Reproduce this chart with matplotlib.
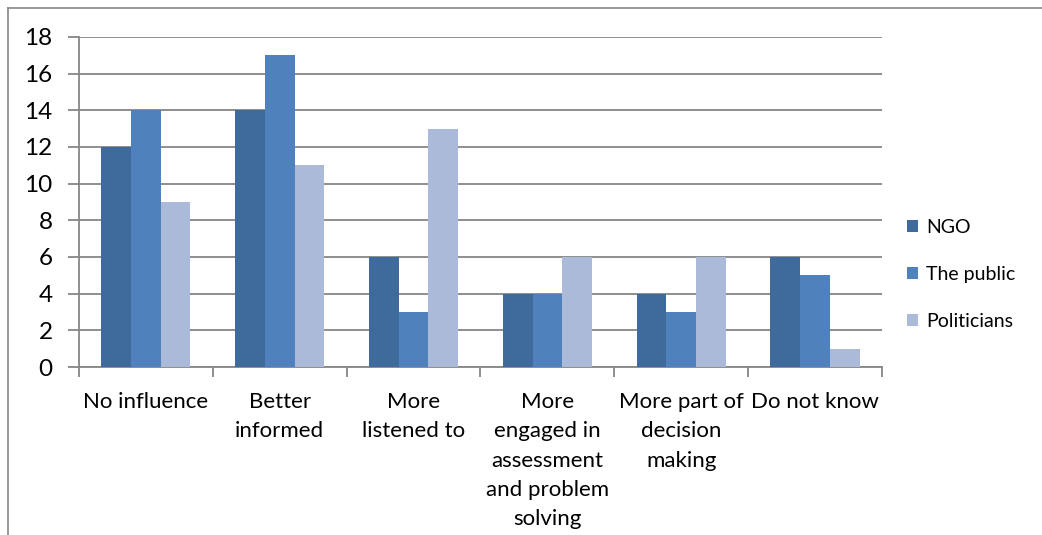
import matplotlib
matplotlib.use("Agg")
import matplotlib.pyplot as plt
from matplotlib.lines import Line2D
import numpy as np

# data
categories = ["No influence", "Better\ninformed", "More\nlistened to",
              "More\nengaged in\nassessment\nand problem\nsolving",
              "More part of\ndecision\nmaking", "Do not know"]
ngo = [12, 14, 6, 4, 4, 6]
public = [14, 17, 3, 4, 3, 5]
politicians = [9, 11, 13, 6, 6, 1]
series_names = ["NGO", "The public", "Politicians"]
colors = ["#3F6A9C", "#4F81BD", "#AABAD8"]
yticks = [0, 2, 4, 6, 8, 10, 12, 14, 16, 18]

plt.rcParams['font.family'] = ['Lato', 'DejaVu Sans']
gray = "#868686"

fig = plt.figure(figsize=(10.42, 5.35), dpi=100)
ax = fig.add_axes([0.0758, 0.314, 0.7706, 0.617])

x = np.arange(len(categories))
w = 0.222
for i, (vals, name, c) in enumerate(zip([ngo, public, politicians], series_names, colors)):
    ax.bar(x + (i - 1) * w, vals, width=w, color=c, label=name, zorder=3)

ax.set_xlim(-0.5, len(categories) - 0.5)
ax.set_ylim(0, 18)
ax.set_yticks(yticks)
ax.yaxis.grid(True, color=gray, linewidth=1.3, zorder=0)
ax.set_axisbelow(True)

for s in ["top", "right"]:
    ax.spines[s].set_visible(False)
for s in ["left", "bottom"]:
    ax.spines[s].set_color(gray)
    ax.spines[s].set_linewidth(1.3)

ax.tick_params(axis="y", length=8, width=1.3, color=gray, labelsize=17.5, pad=11)
ax.set_xticks(x)
ax.set_xticklabels(categories, fontsize=16, linespacing=1.58)
ax.tick_params(axis="x", length=0, pad=18)
ax.set_xticks(np.arange(-0.5, len(categories)), minor=True)
ax.tick_params(axis="x", which="minor", length=7, width=1.3, color=gray)

leg = ax.legend(loc="center left", bbox_to_anchor=(1.01, 0.28), frameon=False,
                fontsize=14, handlelength=0.55, handleheight=0.55,
                handletextpad=0.4, labelspacing=1.55)

# chart border (Excel-style frame)
fig.add_artist(Line2D([8 / 1042, 8 / 1042], [0, 1 - 8 / 535], color=gray, lw=1.2))
fig.add_artist(Line2D([8 / 1042, 1], [1 - 8 / 535, 1 - 8 / 535], color=gray, lw=1.2))

fig.savefig("out.png", dpi=100)
